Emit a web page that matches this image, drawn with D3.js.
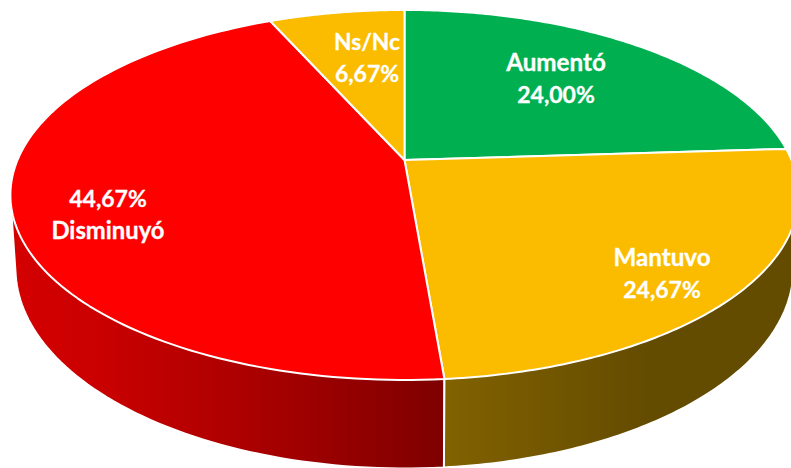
<!DOCTYPE html>
<html>
<head>
<meta charset="utf-8">
<script src="https://cdn.jsdelivr.net/npm/d3@7"></script>
<style>
  html, body { margin: 0; padding: 0; background: #fff; overflow: hidden; }
</style>
</head>
<body>
<script>
const categories = ["Aumentó", "Mantuvo", "Disminuyó", "Ns/Nc"];
const values = [24.00, 24.67, 44.67, 6.67];
const topColors = ["#00B050", "#FBBC00", "#FF0000", "#FBBC00"];
const percentFirst = [false, false, true, false];

const width = 791, height = 468;
const fmt = d3.formatLocale({decimal: ",", thousands: ".", grouping: [3], currency: ["", ""]}).format(".2f");

// perspective of the disc, the centre of the pie is not the centre of the ellipse
const k = 0.189;
const topDisc = {cx: 404.5, cy: 160, a: 387, c: 178.4};
const bottomDisc = {cx: 404.5, cy: 230.5, a: 382, c: 193};

function project(disc, angle) {
    const u = Math.sin(angle), v = -Math.cos(angle);
    const w = 1 - k * v;
    return [disc.cx + disc.a * u / w, disc.cy + disc.c * v / w];
}

function arcPoints(disc, d) {
    return d3.range(0, 121).map((i) => project(disc, d.startAngle + (d.endAngle - d.startAngle) * i / 120));
}

const svg = d3.select("body").append("svg")
    .attr("width", width)
    .attr("height", height)
    .style("display", "block");

const pie = d3.pie().sort(null).value((d) => d);
const slices = pie(values);

// side wall shading, horizontal gradients like the ones office draws
const defs = svg.append("defs");
const wallGradients = [
    {id: "wall0", x1: 700, x2: 791, stops: [["0%", "#006a30"], ["100%", "#005a28"]]},
    {id: "wall1", x1: 443, x2: 650, stops: [["0%", "#826200"], ["100%", "#634b00"]]},
    {id: "wall2", x1: 12, x2: 443, stops: [["0%", "#d40000"], ["20%", "#ca0000"], ["58%", "#a80000"], ["100%", "#7f0000"]]},
    {id: "wall3", x1: 271, x2: 404, stops: [["0%", "#826200"], ["100%", "#634b00"]]}
];
wallGradients.forEach((g) => {
    const lg = defs.append("linearGradient")
        .attr("id", g.id)
        .attr("gradientUnits", "userSpaceOnUse")
        .attr("x1", g.x1).attr("x2", g.x2)
        .attr("y1", 0).attr("y2", 0);
    g.stops.forEach((s) => lg.append("stop").attr("offset", s[0]).attr("stop-color", s[1]));
});

const closedLine = d3.line().curve(d3.curveLinearClosed);

// walls first, back ones before front ones, top faces cover the hull rest
svg.append("g").attr("class", "walls")
    .selectAll("path")
    .data([3, 0, 2, 1])
    .join("path")
    .attr("d", (i) => closedLine(d3.polygonHull(arcPoints(topDisc, slices[i]).concat(arcPoints(bottomDisc, slices[i])))))
    .attr("fill", (i) => "url(#wall" + i + ")")
    .attr("stroke", "#fff")
    .attr("stroke-width", 2)
    .attr("stroke-linejoin", "round");

svg.append("g").attr("class", "faces")
    .selectAll("path")
    .data(slices)
    .join("path")
    .attr("d", (d) => closedLine([[topDisc.cx, topDisc.cy]].concat(arcPoints(topDisc, d))))
    .attr("fill", (d) => topColors[d.index])
    .attr("stroke", "#fff")
    .attr("stroke-width", 2)
    .attr("stroke-linejoin", "round");

// label anchors: centre x and the first baseline, names are a bit wider than the Lato default
const labelAnchors = [[556, 71], [662, 266], [108, 207], [367, 50]];
const nameSizes = [24.2, 24.2, 23.8, 22.7];
const lineGap = 32;

const labels = svg.append("g").attr("class", "labels")
    .selectAll("text")
    .data(slices)
    .join("text")
    .attr("text-anchor", "middle")
    .attr("fill", "#fff")
    .attr("stroke", "#fff")
    .attr("stroke-width", 0.3)
    .style("font-family", "Lato, 'Noto Sans', sans-serif")
    .style("font-weight", "700")
    .style("font-size", "23px");

labels.each(function (d) {
    const i = d.index;
    const pct = {text: fmt(values[i]) + "%", size: 23};
    const name = {text: categories[i], size: nameSizes[i]};
    const lines = percentFirst[i] ? [pct, name] : [name, pct];
    d3.select(this).selectAll("tspan")
        .data(lines)
        .join("tspan")
        .attr("x", labelAnchors[i][0])
        .attr("y", (l, j) => labelAnchors[i][1] + j * lineGap)
        .style("font-size", (l) => l.size + "px")
        .text((l) => l.text);
});
</script>
</body>
</html>
